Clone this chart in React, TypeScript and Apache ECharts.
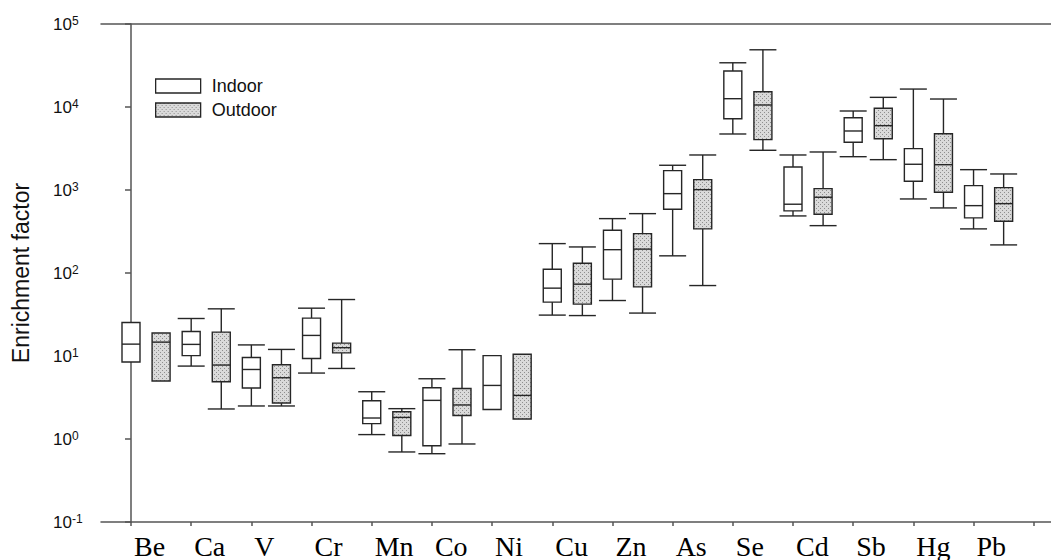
import React, { useEffect, useRef } from "react";
import * as echarts from "echarts";

const elements = ["Be", "Ca", "V", "Cr", "Mn", "Co", "Ni", "Cu", "Zn", "As", "Se", "Cd", "Sb", "Hg", "Pb"];

// [lower whisker, Q1, median, Q3, upper whisker]; null = no whisker drawn
const indoor: (number | null)[][] = [
  [null, 8.45, 13.9, 25.3, null],
  [7.56, 10.1, 13.8, 19.7, 28.3],
  [2.5, 4.11, 6.88, 9.6, 13.6],
  [6.23, 9.34, 17.7, 28.6, 37.7],
  [1.13, 1.53, 1.79, 2.89, 3.71],
  [0.665, 0.83, 2.92, 4.14, 5.32],
  [null, 2.27, 4.42, 10.1, null],
  [31.1, 44.6, 65.7, 111, 226],
  [46.6, 84.3, 191, 328, 452],
  [161, 586, 904, 1711, 1986],
  [4730, 7230, 12590, 27100, 34100],
  [487, 560, 674, 1896, 2642],
  [2520, 3760, 5140, 7430, 8950],
  [780, 1274, 2042, 3150, 16450],
  [340, 461, 648, 1129, 1758],
];

const outdoor: (number | null)[][] = [
  [null, 4.99, 14.7, 18.9, null],
  [2.3, 4.9, 7.78, 19.4, 37],
  [2.5, 2.71, 5.47, 7.84, 12.0],
  [7.08, 10.9, 12.6, 14.3, 47.9],
  [0.698, 1.1, 1.82, 2.13, 2.32],
  [0.871, 1.92, 2.57, 4.06, 11.9],
  [null, 1.74, 3.35, 10.5, null],
  [30.7, 42.2, 73.4, 131, 206],
  [32.9, 68.1, 194, 298, 519],
  [70.6, 340, 1010, 1333, 2642],
  [3010, 4040, 10570, 15270, 48900],
  [372, 511, 818, 1039, 2871],
  [2320, 4150, 5960, 9640, 13070],
  [608, 940, 2018, 4770, 12480],
  [218, 421, 685, 1067, 1560],
];

const seriesNames = ["Indoor", "Outdoor"];
const yMin = 0.1;
const yMax = 100000;
const xMin = -0.4985;
const xMax = 15.287;

const SANS = "'Liberation Sans', Arial, sans-serif";
const SERIF = "'Liberation Serif', 'Times New Roman', serif";
const STROKE = "#262626";
const AXIS = "#555555";

function makePattern() {
  const c = document.createElement("canvas");
  c.width = 4;
  c.height = 4;
  const ctx = c.getContext("2d")!;
  ctx.fillStyle = "#dadada";
  ctx.fillRect(0, 0, 4, 4);
  ctx.fillStyle = "#8e8e8e";
  ctx.fillRect(0, 0, 1, 1);
  ctx.fillRect(2, 2, 1, 1);
  return c;
}

export default function App() {
  const ref = useRef<HTMLDivElement>(null);

  useEffect(() => {
    if (!ref.current) return;
    const chart = echarts.init(ref.current, undefined, { renderer: "svg" });
    const pattern: any = { image: makePattern(), repeat: "repeat" };

    const makeRender = (src: (number | null)[][], fill: any) => (params: any, api: any) => {
      const x = api.value(0);
      const [lo, q1, md, q3, hi] = src[params.dataIndex];
      const boxW = 18;
      const capW = 27;
      const pQ1 = api.coord([x, q1]);
      const pQ3 = api.coord([x, q3]);
      const pMd = api.coord([x, md]);
      const cx = pQ1[0];
      const lineStyle = { stroke: STROKE, lineWidth: 1.4 };
      const children: any[] = [];
      if (hi != null) {
        const pHi = api.coord([x, hi]);
        children.push({ type: "line", shape: { x1: cx, y1: pHi[1], x2: cx, y2: pQ3[1] }, style: lineStyle });
        children.push({ type: "line", shape: { x1: cx - capW / 2, y1: pHi[1], x2: cx + capW / 2, y2: pHi[1] }, style: lineStyle });
      }
      if (lo != null) {
        const pLo = api.coord([x, lo]);
        children.push({ type: "line", shape: { x1: cx, y1: pQ1[1], x2: cx, y2: pLo[1] }, style: lineStyle });
        children.push({ type: "line", shape: { x1: cx - capW / 2, y1: pLo[1], x2: cx + capW / 2, y2: pLo[1] }, style: lineStyle });
      }
      children.push({
        type: "rect",
        shape: { x: cx - boxW / 2, y: pQ3[1], width: boxW, height: pQ1[1] - pQ3[1] },
        style: { fill, stroke: STROKE, lineWidth: 1.4 },
      });
      children.push({ type: "line", shape: { x1: cx - boxW / 2, y1: pMd[1], x2: cx + boxW / 2, y2: pMd[1] }, style: lineStyle });
      return { type: "group", children };
    };

    const tickValues = elements.map((_, i) => i).concat([elements.length]);
    const labelValues = elements.map((_, i) => i);

    chart.setOption({
      animation: false,
      backgroundColor: "#ffffff",
      grid: { left: 101, right: 0, top: 24, height: 498.5, containLabel: false },
      legend: {
        orient: "vertical",
        left: 150,
        top: 72,
        itemWidth: 45,
        itemHeight: 14,
        itemGap: 6,
        icon: "rect",
        selectedMode: false,
        data: [
          { name: seriesNames[0], itemStyle: { color: "#ffffff", borderColor: STROKE, borderWidth: 1.3 } },
          { name: seriesNames[1], itemStyle: { color: pattern, borderColor: STROKE, borderWidth: 1.3 } },
        ],
        textStyle: { fontFamily: SANS, fontSize: 18, color: "#111", padding: [0, 0, 0, 6] },
      },
      xAxis: [
        {
          type: "value",
          position: "bottom",
          min: xMin,
          max: xMax,
          axisLine: { show: true, onZero: false, lineStyle: { color: AXIS, width: 1.5 } },
          axisTick: { show: true, length: 4, customValues: tickValues, lineStyle: { color: AXIS, width: 1.5 } },
          axisLabel: {
            customValues: labelValues,
            formatter: (v: number) => elements[Math.round(v)] ?? "",
            align: "left",
            padding: [0, 0, 0, 3],
            margin: 10,
            fontFamily: SERIF,
            fontSize: 28,
            color: "#000",
          },
          splitLine: { show: false },
        },
        {
          type: "value",
          position: "top",
          min: xMin,
          max: xMax,
          axisLine: { show: true, onZero: false, lineStyle: { color: AXIS, width: 1.5 } },
          axisTick: { show: false },
          axisLabel: { show: false },
          splitLine: { show: false },
        },
      ],
      yAxis: {
        type: "log",
        logBase: 10,
        min: yMin,
        max: yMax,
        splitNumber: 6,
        name: "Enrichment factor",
        nameLocation: "middle",
        nameGap: 69,
        nameTextStyle: { fontFamily: SANS, fontSize: 23, color: "#111" },
        axisLine: { show: true, lineStyle: { color: AXIS, width: 1.5 } },
        axisTick: { show: true, length: 6, lineStyle: { color: AXIS, width: 1.5 } },
        minorTick: { show: false },
        splitLine: { show: false },
        axisLabel: {
          margin: 48,
          align: "left",
          fontFamily: SANS,
          fontSize: 17,
          color: "#111",
          formatter: (v: number) => `{a|10}{b|${Math.round(Math.log10(v))}}`,
          rich: {
            a: { fontFamily: SANS, fontSize: 17, color: "#111", lineHeight: 18 },
            b: { fontFamily: SANS, fontSize: 12, color: "#111", verticalAlign: "top", lineHeight: 12 },
          },
        },
      },
      series: [
        {
          name: seriesNames[0],
          type: "custom",
          xAxisIndex: 0,
          yAxisIndex: 0,
          itemStyle: { color: "#ffffff", borderColor: STROKE, borderWidth: 1.3 },
          encode: { x: 0, y: [1, 2, 3] },
          data: indoor.map((d, i) => [i, d[1], d[2], d[3]]),
          renderItem: makeRender(indoor, "#ffffff"),
        },
        {
          name: seriesNames[1],
          type: "custom",
          xAxisIndex: 0,
          yAxisIndex: 0,
          itemStyle: { color: pattern, borderColor: STROKE, borderWidth: 1.3 },
          encode: { x: 0, y: [1, 2, 3] },
          data: outdoor.map((d, i) => [i + 0.5, d[1], d[2], d[3]]),
          renderItem: makeRender(outdoor, pattern),
        },
      ],
    });

    return () => chart.dispose();
  }, []);

  return (
    <div
      ref={ref}
      style={{ position: "absolute", left: 0, top: 0, width: 1051, height: 560, background: "#fff" }}
    />
  );
}
